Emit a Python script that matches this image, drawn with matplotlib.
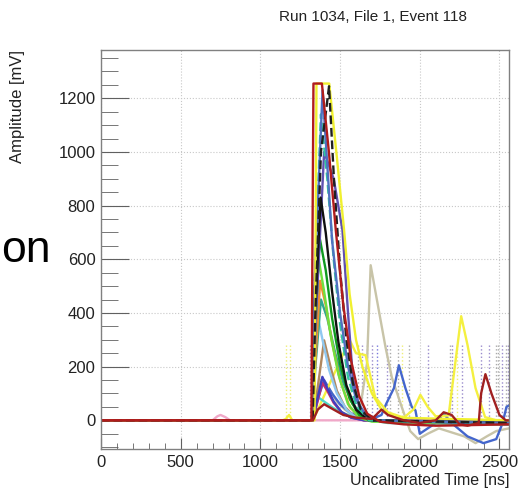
import matplotlib
matplotlib.use("Agg")
import matplotlib.pyplot as plt
from matplotlib.ticker import MultipleLocator

plt.rcParams['font.family'] = ['Liberation Sans', 'DejaVu Sans']

# ---- waveforms : (time [ns], amplitude [mV]) ----
t_red = [0, 1320, 1333, 1386, 1430, 1473, 1520, 1570, 1620, 1670, 1750, 1900, 2100, 2300, 2560]
v_red = [0, 0, 1255, 1255, 1000, 710, 430, 220, 90, 25, -5, -15, -20, -18, -15]

t_yel = [0, 1340, 1352, 1432, 1480, 1525, 1560, 1600, 1640, 1700, 1760, 1850, 2560]
v_yel = [0, 0, 1255, 1255, 980, 710, 470, 300, 200, 100, 40, 10, 0]

t_blkd = [0, 1328, 1345, 1380, 1431, 1462, 1500, 1540, 1580, 1630, 1700, 2560]
v_blkd = [0, 0, 400, 1000, 1245, 895, 560, 300, 140, 40, 0, -10]

t_steel = [0, 1325, 1340, 1390, 1450, 1500, 1550, 1600, 1660, 1720, 2560]
v_steel = [0, 0, 500, 1230, 670, 400, 200, 80, 20, 0, -10]

t_cyand = [0, 1325, 1340, 1380, 1420, 1460, 1500, 1550, 1600, 1680, 2560]
v_cyand = [0, 0, 500, 1140, 900, 600, 360, 160, 60, 0, -12]

t_blk = [0, 1326, 1340, 1378, 1410, 1450, 1490, 1540, 1600, 1680, 2560]
v_blk = [0, 0, 350, 830, 700, 480, 290, 130, 40, 0, -10]

t_slate = [0, 1330, 1350, 1400, 1460, 1515, 1550, 1580, 1620, 1700, 2560]
v_slate = [0, 0, 400, 1000, 900, 709, 400, 160, 50, 0, -15]

t_grn = [0, 1326, 1340, 1372, 1410, 1450, 1500, 1560, 1620, 1700, 2560]
v_grn = [0, 0, 300, 680, 560, 380, 210, 80, 20, 0, -12]

t_lime = [0, 1326, 1340, 1366, 1400, 1440, 1490, 1550, 1620, 1700, 2560]
v_lime = [0, 0, 300, 600, 480, 320, 170, 60, 10, -5, -15]

t_org = [0, 1328, 1345, 1375, 1410, 1450, 1500, 1560, 1630, 1700, 2560]
v_org = [0, 0, 220, 520, 430, 290, 150, 50, 10, 0, -10]

t_teal = [0, 1328, 1345, 1380, 1420, 1470, 1520, 1580, 1650, 1720, 2560]
v_teal = [0, 0, 200, 450, 380, 250, 140, 60, 15, 0, -12]

t_lblue = [0, 1326, 1340, 1358, 1390, 1430, 1480, 1540, 1600, 1700, 2560]
v_lblue = [0, 0, 250, 392, 300, 190, 100, 40, 10, 0, -8]

t_tan = [0, 1330, 1350, 1400, 1440, 1480, 1530, 1580, 1650, 2560]
v_tan = [0, 0, 80, 298, 200, 110, 50, 20, 0, -5]

t_dblue = [0, 1330, 1350, 1389, 1420, 1460, 1510, 1570, 1650, 2560]
v_dblue = [0, 0, 60, 162, 120, 70, 30, 10, 0, -5]

t_mag = [0, 1330, 1350, 1389, 1420, 1460, 1510, 1570, 1650, 2560]
v_mag = [0, 0, 50, 140, 110, 65, 30, 10, 0, -5]

t_turq = [0, 1326, 1340, 1360, 1400, 1460, 1530, 1600, 1700, 1800, 2560]
v_turq = [0, 0, 60, 87, 70, 45, 25, 10, 0, -10, -15]

t_khaki = [0, 1330, 1345, 1380, 1430, 1480, 1530, 1580, 1630, 1669, 1692, 1740, 1785, 1825,
           1888, 1940, 1990, 2050, 2120, 2200, 2280, 2350, 2420, 2480, 2560]
v_khaki = [0, 0, 50, 150, 120, 70, 40, 20, 60, 212, 578, 420, 273, 160,
           48, -40, -70, -50, -30, -45, -60, -85, -60, -40, -30]

t_blate = [0, 1330, 1360, 1400, 1450, 1500, 1560, 1620, 1700, 1760, 1790, 1838, 1869, 1910,
           1950, 1973, 2000, 2050, 2100, 2150, 2200, 2300, 2400, 2480, 2520, 2544, 2560]
v_blate = [0, 0, 80, 150, 100, 60, 30, 10, 5, 20, 62, 120, 205, 120,
           50, 37, -50, -30, -10, 25, -10, -60, -85, -70, -10, 50, 55]

t_rlate = [0, 1330, 1360, 1400, 1460, 1520, 1600, 1700, 1760, 1800, 1900, 2000, 2100, 2150,
           2200, 2250, 2300, 2370, 2385, 2412, 2450, 2500, 2540, 2560]
v_rlate = [0, 0, 40, 60, 40, 20, 10, 5, 40, 20, 0, -10, 0, 30,
           20, -15, -20, -10, 100, 172, 100, 20, 0, 0]

t_ylate = [0, 1140, 1160, 1180, 1200, 1330, 1560, 1600, 1660, 1720, 1800, 1900, 1960, 2004,
           2050, 2100, 2181, 2220, 2260, 2300, 2350, 2410, 2480, 2560]
v_ylate = [0, 0, 5, 20, 0, 0, 300, 250, 243, 87, 30, 10, 40, 95,
           50, 15, 18, 200, 388, 280, 120, 12, 0, 0]

t_pink = [0, 700, 730, 750, 780, 810, 2560]
v_pink = [0, 0, 15, 20, 12, 0, 0]

# ---- hit markers (vertical dotted lines) ----
hit_t = [1162, 1187, 1310, 1320, 1560, 1612, 1637, 1669, 1700, 1731, 1794, 1815, 1862, 1887,
         1931, 2050, 2187, 2200, 2231, 2262, 2387, 2437, 2481, 2494, 2519, 2544, 2556]
hit_c = ['#eeee77', '#eeee77', '#9a8ccc', '#aaaaaa', '#eeee77', '#aaaaaa', '#9a8ccc', '#aaaaaa',
         '#9a8ccc', '#7a7add', '#9a8ccc', '#aaaaaa', '#aaaaaa', '#eeee77', '#aaaaaa', '#9a8ccc',
         '#aaaaaa', '#9a8ccc', '#eeee77', '#9a8ccc', '#9a8ccc', '#9a8ccc', '#aaaaaa', '#aaaaaa',
         '#9a8ccc', '#aaaaaa', '#9a8ccc']
hit_top = 280

# style table : (t, v, colour, linestyle)
traces = [
    (t_pink, v_pink, '#f0a8c8', '-'),
    (t_khaki, v_khaki, '#c8c4a8', '-'),
    (t_blate, v_blate, '#4466cc', '-'),
    (t_ylate, v_ylate, '#f4f040', '-'),
    (t_turq, v_turq, '#50d8c8', '-'),
    (t_tan, v_tan, '#b08860', '-'),
    (t_lblue, v_lblue, '#90c8f0', '-'),
    (t_mag, v_mag, '#c03070', '-'),
    (t_dblue, v_dblue, '#4040c0', '-'),
    (t_teal, v_teal, '#30a890', '-'),
    (t_org, v_org, '#f09030', '-'),
    (t_lime, v_lime, '#70e040', '-'),
    (t_grn, v_grn, '#109a20', '-'),
    (t_slate, v_slate, '#6050b0', '-'),
    (t_blk, v_blk, '#101010', '-'),
    (t_cyand, v_cyand, '#30c8a0', '--'),
    (t_steel, v_steel, '#5070c0', '-'),
    (t_yel, v_yel, '#f0f030', '-'),
    (t_blkd, v_blkd, '#202020', '--'),
    (t_rlate, v_rlate, '#a02020', '-'),
    (t_red, v_red, '#b01c1c', '-'),
]

fig = plt.figure(figsize=(5.24, 4.99), dpi=100)
ax = fig.add_axes([101/524, 1 - 448.5/499, (509 - 101)/524, (448.5 - 50)/499])

ax.vlines(hit_t, 0, hit_top, colors=hit_c, linestyles=':', linewidth=1.0, zorder=1)
for t, v, c, ls in traces:
    ax.plot(t, v, color=c, linestyle=ls, linewidth=1.7, zorder=2)

ax.set_xlim(0, 2560)
ax.set_ylim(-105, 1380)
ax.xaxis.set_major_locator(MultipleLocator(500))
ax.xaxis.set_minor_locator(MultipleLocator(100))
ax.yaxis.set_major_locator(MultipleLocator(200))
ax.yaxis.set_minor_locator(MultipleLocator(50))
ax.grid(True, which='major', color='#c8c8c8', linestyle=':', linewidth=0.8)
ax.set_axisbelow(True)

for s in ax.spines.values():
    s.set_color('#808080')
    s.set_linewidth(1.0)
ax.tick_params(axis='both', which='both', direction='in', colors='#606060',
               labelcolor='#222222', labelsize=12, top=False, right=False)
ax.tick_params(axis='y', which='major', length=20, pad=4)
ax.tick_params(axis='y', which='minor', length=12)
ax.tick_params(axis='x', which='major', length=8, pad=5)
ax.tick_params(axis='x', which='minor', length=4)

fig.text(373/524, 1 - 17/499, 'Run 1034, File 1, Event 118', ha='center', va='center',
         fontsize=11, color='#222222')
fig.text(18/524, 1 - 50/499, 'Amplitude [mV]', rotation=90, ha='center', va='top',
         fontsize=12, color='#222222')
fig.text(509/524, 1 - 481/499, 'Uncalibrated Time [ns]', ha='right', va='center',
         fontsize=11.5, color='#222222')
fig.text(1/524, 1 - 262/499, 'on', ha='left', va='baseline', fontsize=32, color='black')

fig.savefig('out.png', dpi=100)
